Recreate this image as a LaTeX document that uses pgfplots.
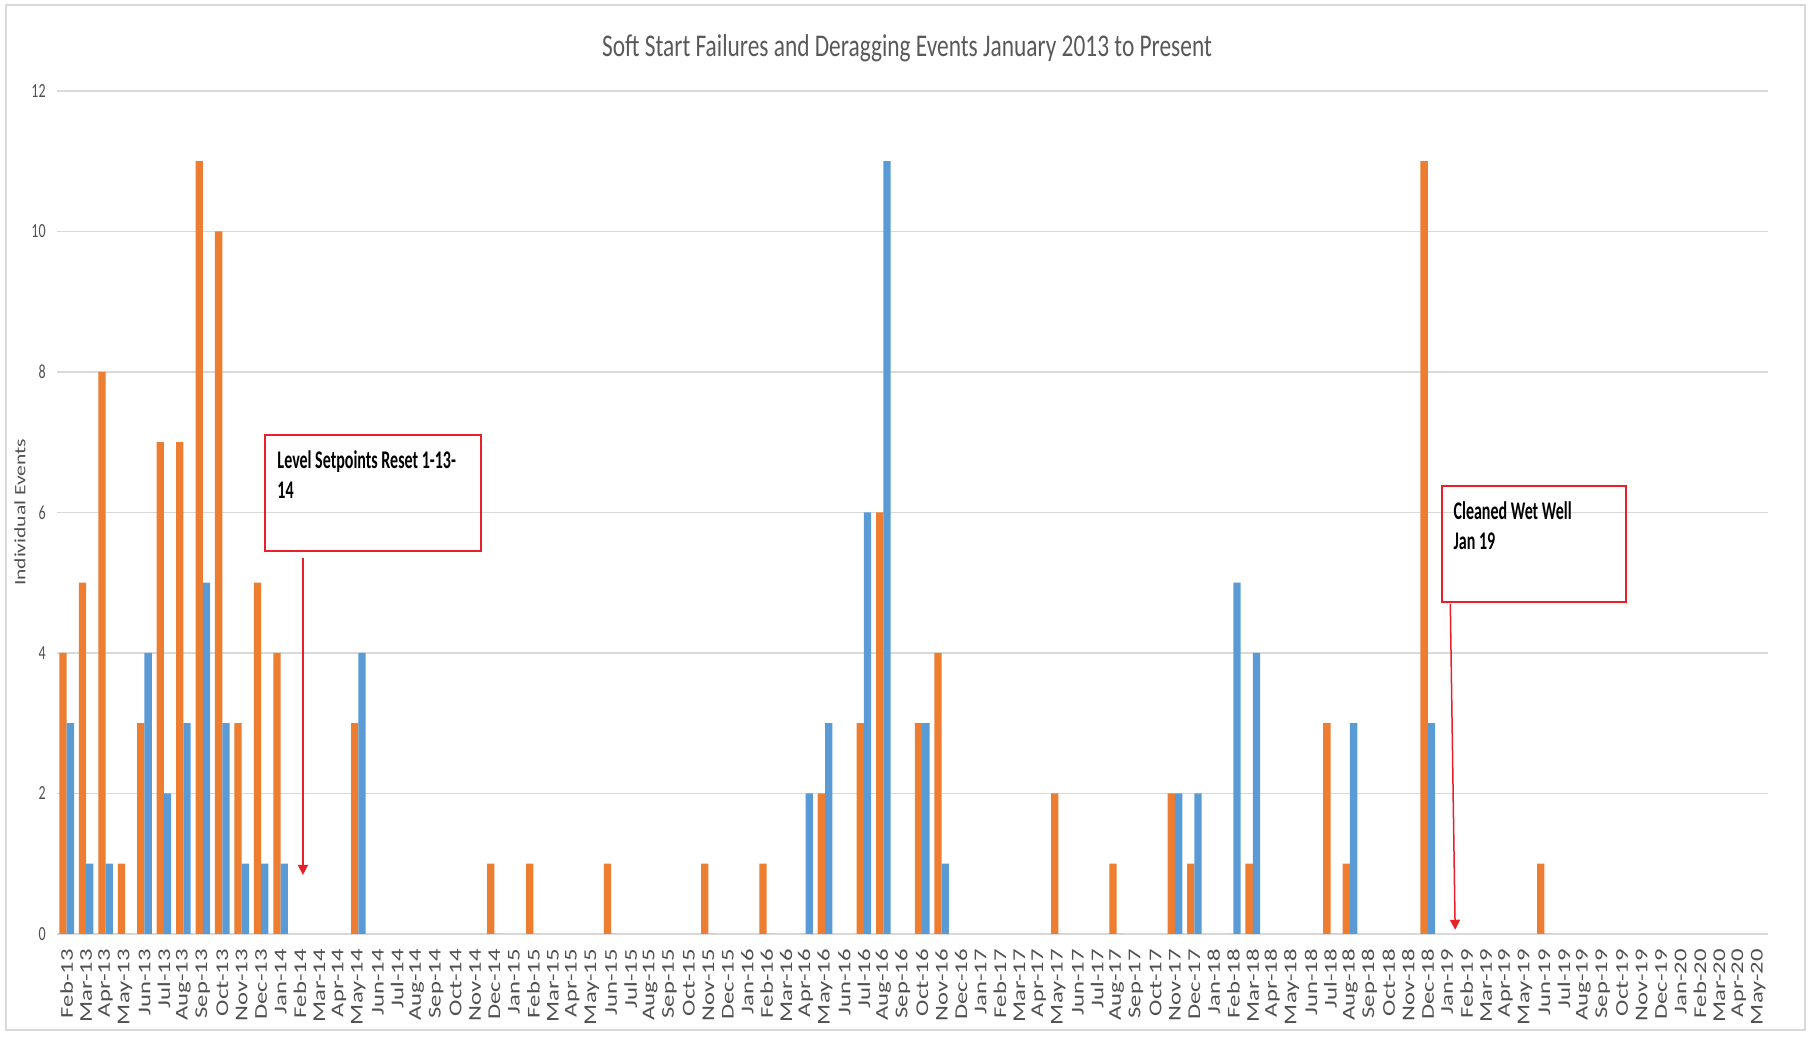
\documentclass[border=0pt]{standalone}
\usepackage{fontspec}
\setmainfont{Carlito}
\newfontfamily\titlefont[FakeStretch=0.74]{Carlito}
\newfontfamily\tickfont[FakeStretch=0.70]{Carlito}
\newfontfamily\calloutfont[FakeStretch=0.63]{Carlito}
\newfontfamily\rotfont[FakeStretch=1.37]{Carlito}
\newfontfamily\ylabfont[FakeStretch=1.36]{Carlito}
\usepackage{pgfplots}
\pgfplotsset{compat=1.18}
\usepackage{pgfplotstable}
\usetikzlibrary{arrows.meta}
\definecolor{titlegray}{HTML}{595959}
\definecolor{labelgray}{HTML}{505050}
\definecolor{gridgray}{HTML}{D9D9D9}
\definecolor{bordergray}{HTML}{D9D9D9}
\definecolor{barorange}{HTML}{ED7D31}
\definecolor{barblue}{HTML}{5B9BD5}
\definecolor{annred}{HTML}{E8202A}

% x = month index (0 = Feb-13 ... 87 = May-20), o = orange series, b = blue series
\pgfplotstableread{
x o b
0 4 3
1 5 1
2 8 1
3 1 0
4 3 4
5 7 2
6 7 3
7 11 5
8 10 3
9 3 1
10 5 1
11 4 1
15 3 4
22 1 0
24 1 0
28 1 0
33 1 0
36 1 0
38 0 2
39 2 3
41 3 6
42 6 11
44 3 3
45 4 1
51 2 0
54 1 0
57 2 2
58 1 2
60 0 5
61 1 4
65 3 0
66 1 3
70 11 3
76 1 0
}\datatable

\begin{document}
\begin{tikzpicture}[x=1pt,y=1pt]
\useasboundingbox (0,0) rectangle (904.5,518.5);
\draw[bordergray, line width=0.8pt] (3,3.5) rectangle (902.5,516);
\node[anchor=base, inner sep=0pt, text=titlegray, font=\titlefont\fontsize{15.8}{18}\selectfont] at (453.5,490.2) {Soft Start Failures and Deragging Events January 2013 to Present};
\node[rotate=90, inner sep=0pt, text=labelgray, font=\ylabfont\fontsize{7.9}{9}\selectfont] at (10,262.3) {Individual Events};
\begin{axis}[
  at={(28.5pt,51.5pt)}, anchor=south west,
  scale only axis, width=855.5pt, height=421.5pt,
  xmin=-0.5, xmax=87.5, ymin=0, ymax=12,
  ybar=0pt, bar width=3.65pt,
  axis line style={draw=none},
  ymajorgrids, grid style={gridgray, line width=0.6pt},
  major tick length=0pt,
  ytick={0,2,...,12},
  xtick={0,...,87},
  xticklabels={Feb-13,Mar-13,Apr-13,May-13,Jun-13,Jul-13,Aug-13,Sep-13,Oct-13,Nov-13,Dec-13,
    Jan-14,Feb-14,Mar-14,Apr-14,May-14,Jun-14,Jul-14,Aug-14,Sep-14,Oct-14,Nov-14,Dec-14,
    Jan-15,Feb-15,Mar-15,Apr-15,May-15,Jun-15,Jul-15,Aug-15,Sep-15,Oct-15,Nov-15,Dec-15,
    Jan-16,Feb-16,Mar-16,Apr-16,May-16,Jun-16,Jul-16,Aug-16,Sep-16,Oct-16,Nov-16,Dec-16,
    Jan-17,Feb-17,Mar-17,Apr-17,May-17,Jun-17,Jul-17,Aug-17,Sep-17,Oct-17,Nov-17,Dec-17,
    Jan-18,Feb-18,Mar-18,Apr-18,May-18,Jun-18,Jul-18,Aug-18,Sep-18,Oct-18,Nov-18,Dec-18,
    Jan-19,Feb-19,Mar-19,Apr-19,May-19,Jun-19,Jul-19,Aug-19,Sep-19,Oct-19,Nov-19,Dec-19,
    Jan-20,Feb-20,Mar-20,Apr-20,May-20},
  xticklabel style={yshift=-7.5pt, rotate=90, anchor=east, inner sep=0pt, text=labelgray, font=\rotfont\fontsize{9}{10}\selectfont},
  yticklabel style={anchor=east, inner sep=0pt, xshift=-5.5pt, text=labelgray, font=\tickfont\fontsize{10}{12}\selectfont},
  /pgf/number format/assume math mode=true,
  clip=false,
]
\addplot[fill=barorange, draw=none] table[x=x, y=o] {\datatable};
\addplot[fill=barblue, draw=none] table[x=x, y=b] {\datatable};

% annotation 1
\draw[annred, line width=1pt] (axis cs:10.20,5.45) rectangle (axis cs:21.31,7.10);
\node[anchor=base west, inner sep=0pt, font=\calloutfont\fontsize{12.7}{15}\selectfont\bfseries] at (axis cs:10.82,6.633) {Level Setpoints Reset 1-13-};
\node[anchor=base west, inner sep=0pt, font=\calloutfont\fontsize{12.7}{15}\selectfont\bfseries] at (axis cs:10.82,6.206) {14};
\draw[annred, line width=0.75pt, -{Triangle[length=5pt,width=5pt]}] (axis cs:12.15,5.35) -- (axis cs:12.15,0.84);

% annotation 2
\draw[annred, line width=1pt] (axis cs:70.75,4.73) rectangle (axis cs:80.21,6.38);
\node[anchor=base west, inner sep=0pt, font=\calloutfont\fontsize{12.7}{15}\selectfont\bfseries] at (axis cs:71.31,5.907) {Cleaned Wet Well};
\node[anchor=base west, inner sep=0pt, font=\calloutfont\fontsize{12.7}{15}\selectfont\bfseries] at (axis cs:71.31,5.48) {Jan 19};
\draw[annred, line width=0.75pt, -{Triangle[length=5pt,width=5pt]}] (axis cs:71.16,4.70) -- (axis cs:71.41,0.06);
\end{axis}
\end{tikzpicture}
\end{document}
